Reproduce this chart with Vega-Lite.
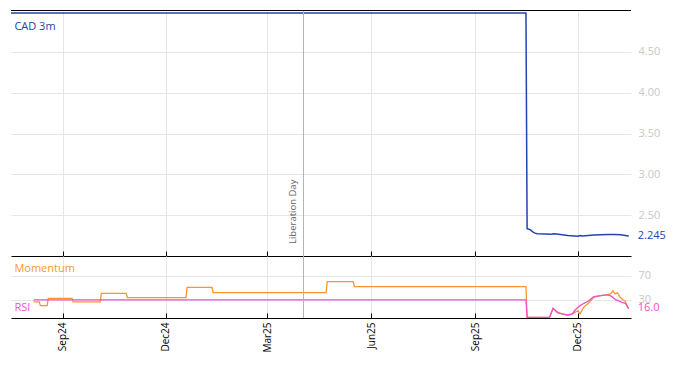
{
  "$schema": "https://vega.github.io/schema/vega-lite/v6.json",
  "background": "white",
  "padding": {"left": 10, "top": 10, "right": 0, "bottom": 0},
  "spacing": 0,
  "bounds": "flush",
  "config": {
    "view": {"stroke": null},
    "font": "Open Sans",
    "text": {"font": "Open Sans"},
    "axis": {"labelFont": "Open Sans", "titleFont": "Open Sans"}
  },
  "datasets": {
    "cad": [
      {"date": "2024-07-17", "value": 4.975},
      {"date": "2025-10-16", "value": 4.975},
      {"date": "2025-10-17", "value": 2.335},
      {"date": "2025-10-18", "value": 2.33},
      {"date": "2025-10-20", "value": 2.32},
      {"date": "2025-10-22", "value": 2.295},
      {"date": "2025-10-24", "value": 2.28},
      {"date": "2025-10-26", "value": 2.272},
      {"date": "2025-11-02", "value": 2.268},
      {"date": "2025-11-07", "value": 2.265},
      {"date": "2025-11-09", "value": 2.272},
      {"date": "2025-11-12", "value": 2.27},
      {"date": "2025-11-17", "value": 2.26},
      {"date": "2025-11-22", "value": 2.25},
      {"date": "2025-12-01", "value": 2.242},
      {"date": "2025-12-03", "value": 2.25},
      {"date": "2025-12-05", "value": 2.246},
      {"date": "2025-12-10", "value": 2.252},
      {"date": "2025-12-15", "value": 2.257},
      {"date": "2025-12-21", "value": 2.261},
      {"date": "2025-12-28", "value": 2.263},
      {"date": "2026-01-02", "value": 2.264},
      {"date": "2026-01-08", "value": 2.259},
      {"date": "2026-01-12", "value": 2.252},
      {"date": "2026-01-15", "value": 2.245}
    ],
    "events": [
      {"date": "2025-04-02", "event": "Liberation Day"}
    ],
    "labels": [
      {"panel": "top", "label": "CAD 3m", "date": "2024-07-20", "value": 4.77},
      {"panel": "bottom", "label": "Momentum", "date": "2024-07-20", "value": 75.7},
      {"panel": "bottom", "label": "RSI", "date": "2024-07-20", "value": 12.1}
    ],
    "ind": [
      {"date": "2024-08-06", "series": "Momentum", "value": 26.7},
      {"date": "2024-08-11", "series": "Momentum", "value": 26.7},
      {"date": "2024-08-12", "series": "Momentum", "value": 20.5},
      {"date": "2024-08-18", "series": "Momentum", "value": 20.5},
      {"date": "2024-08-19", "series": "Momentum", "value": 32.7},
      {"date": "2024-09-09", "series": "Momentum", "value": 32.7},
      {"date": "2024-09-10", "series": "Momentum", "value": 26.7},
      {"date": "2024-10-04", "series": "Momentum", "value": 26.7},
      {"date": "2024-10-05", "series": "Momentum", "value": 41},
      {"date": "2024-10-27", "series": "Momentum", "value": 41},
      {"date": "2024-10-28", "series": "Momentum", "value": 34},
      {"date": "2024-12-19", "series": "Momentum", "value": 34},
      {"date": "2024-12-20", "series": "Momentum", "value": 51},
      {"date": "2025-01-11", "series": "Momentum", "value": 51},
      {"date": "2025-01-12", "series": "Momentum", "value": 42.2},
      {"date": "2025-04-22", "series": "Momentum", "value": 42.2},
      {"date": "2025-04-23", "series": "Momentum", "value": 60.5},
      {"date": "2025-05-16", "series": "Momentum", "value": 60.5},
      {"date": "2025-05-17", "series": "Momentum", "value": 52.2},
      {"date": "2025-10-16", "series": "Momentum", "value": 52.2},
      {"date": "2025-10-17", "series": "Momentum", "value": 1},
      {"date": "2025-11-06", "series": "Momentum", "value": 1.5},
      {"date": "2025-11-09", "series": "Momentum", "value": 16},
      {"date": "2025-11-13", "series": "Momentum", "value": 9},
      {"date": "2025-11-18", "series": "Momentum", "value": 6.5},
      {"date": "2025-11-22", "series": "Momentum", "value": 5},
      {"date": "2025-11-26", "series": "Momentum", "value": 7},
      {"date": "2025-11-28", "series": "Momentum", "value": 9},
      {"date": "2025-12-01", "series": "Momentum", "value": 12},
      {"date": "2025-12-03", "series": "Momentum", "value": 7},
      {"date": "2025-12-06", "series": "Momentum", "value": 17.7},
      {"date": "2025-12-10", "series": "Momentum", "value": 24},
      {"date": "2025-12-15", "series": "Momentum", "value": 34.3},
      {"date": "2025-12-21", "series": "Momentum", "value": 37},
      {"date": "2025-12-27", "series": "Momentum", "value": 38.8},
      {"date": "2025-12-30", "series": "Momentum", "value": 40},
      {"date": "2026-01-01", "series": "Momentum", "value": 45.5},
      {"date": "2026-01-03", "series": "Momentum", "value": 40},
      {"date": "2026-01-05", "series": "Momentum", "value": 41.7},
      {"date": "2026-01-07", "series": "Momentum", "value": 35.5},
      {"date": "2026-01-09", "series": "Momentum", "value": 31.7},
      {"date": "2026-01-12", "series": "Momentum", "value": 27.7},
      {"date": "2026-01-14", "series": "Momentum", "value": 17.7},
      {"date": "2026-01-15", "series": "Momentum", "value": 15},
      {"date": "2024-08-06", "series": "RSI", "value": 30},
      {"date": "2025-10-16", "series": "RSI", "value": 30},
      {"date": "2025-10-17", "series": "RSI", "value": 1},
      {"date": "2025-11-06", "series": "RSI", "value": 1.5},
      {"date": "2025-11-09", "series": "RSI", "value": 16},
      {"date": "2025-11-13", "series": "RSI", "value": 9},
      {"date": "2025-11-18", "series": "RSI", "value": 6.5},
      {"date": "2025-11-22", "series": "RSI", "value": 5},
      {"date": "2025-11-26", "series": "RSI", "value": 6.5},
      {"date": "2025-11-28", "series": "RSI", "value": 12},
      {"date": "2025-12-01", "series": "RSI", "value": 17.7},
      {"date": "2025-12-03", "series": "RSI", "value": 20.5},
      {"date": "2025-12-06", "series": "RSI", "value": 24},
      {"date": "2025-12-10", "series": "RSI", "value": 27.7},
      {"date": "2025-12-15", "series": "RSI", "value": 35.5},
      {"date": "2025-12-21", "series": "RSI", "value": 37},
      {"date": "2025-12-27", "series": "RSI", "value": 38.3},
      {"date": "2025-12-30", "series": "RSI", "value": 36.7},
      {"date": "2026-01-01", "series": "RSI", "value": 34.3},
      {"date": "2026-01-03", "series": "RSI", "value": 31},
      {"date": "2026-01-07", "series": "RSI", "value": 27.7},
      {"date": "2026-01-09", "series": "RSI", "value": 26},
      {"date": "2026-01-12", "series": "RSI", "value": 24.3},
      {"date": "2026-01-14", "series": "RSI", "value": 18.9},
      {"date": "2026-01-15", "series": "RSI", "value": 16}
    ]
  },
  "vconcat": [
    {
      "width": 620,
      "height": 245,
      "layer": [
        {
          "data": {"name": "cad"},
          "mark": {"type": "line", "color": "#2443b0", "strokeWidth": 1.5, "clip": true},
          "encoding": {
            "x": {
              "field": "date", "type": "temporal",
              "scale": {"type": "utc", "domain": [{"year": 2024, "month": 7, "date": 17, "utc": true}, {"year": 2026, "month": 1, "date": 17, "utc": true}], "nice": false},
              "axis": {
                "orient": "bottom", "title": null, "labels": false,
                "values": [
                  {"year": 2024, "month": 9, "date": 1, "utc": true},
                  {"year": 2024, "month": 12, "date": 1, "utc": true},
                  {"year": 2025, "month": 3, "date": 1, "utc": true},
                  {"year": 2025, "month": 6, "date": 1, "utc": true},
                  {"year": 2025, "month": 9, "date": 1, "utc": true},
                  {"year": 2025, "month": 12, "date": 1, "utc": true}
                ],
                "domainColor": "#000000", "domainWidth": 1,
                "tickColor": "#000000", "tickSize": -5,
                "grid": true, "gridColor": "#e6e6e6"
              }
            },
            "y": {
              "field": "value", "type": "quantitative",
              "scale": {"domain": [2, 5], "nice": false, "zero": false},
              "axis": {
                "orient": "right", "title": null, "values": [2.5, 3, 3.5, 4, 4.5], "format": ".2f",
                "domain": false, "ticks": false, "labelColor": "#c8c8c8", "labelFontSize": 11, "labelPadding": 7,
                "grid": true, "gridColor": "#e6e6e6"
              }
            }
          }
        },
        {
          "data": {"name": "events"},
          "mark": {"type": "rule", "color": "#b4b4b4", "strokeWidth": 1},
          "encoding": {"x": {"field": "date", "type": "temporal"}}
        },
        {
          "data": {"name": "events"},
          "mark": {"type": "text", "angle": -90, "align": "left", "baseline": "bottom", "dy": -5, "fontSize": 9.5, "color": "#666666"},
          "encoding": {
            "x": {"field": "date", "type": "temporal"},
            "y": {"datum": 2.147},
            "text": {"field": "event"}
          }
        },
        {
          "data": {"values": [{"edge": 5}]},
          "mark": {"type": "rule", "color": "#000000", "strokeWidth": 1, "yOffset": -0.5},
          "encoding": {"y": {"field": "edge", "type": "quantitative"}}
        },
        {
          "data": {"name": "labels"},
          "transform": [{"filter": "datum.panel === 'top'"}],
          "mark": {"type": "text", "align": "left", "baseline": "alphabetic", "fontSize": 11, "color": "#2443b0"},
          "encoding": {
            "x": {"field": "date", "type": "temporal"},
            "y": {"field": "value", "type": "quantitative"},
            "text": {"field": "label"}
          }
        },
        {
          "data": {"name": "cad"},
          "transform": [{"filter": "time(datum.date) === utc(2026, 0, 15)"}],
          "mark": {"type": "text", "align": "left", "baseline": "middle", "dx": 9, "fontSize": 11, "color": "#2443b0"},
          "encoding": {
            "x": {"field": "date", "type": "temporal"},
            "y": {"field": "value", "type": "quantitative"},
            "text": {"field": "value", "type": "quantitative", "format": ".3f"}
          }
        }
      ]
    },
    {
      "width": 620,
      "height": 62,
      "layer": [
        {
          "data": {"name": "ind"},
          "transform": [{"filter": "datum.series === 'Momentum'"}],
          "mark": {"type": "line", "color": "#f7962f", "strokeWidth": 1.3, "clip": true},
          "encoding": {
            "x": {
              "field": "date", "type": "temporal",
              "scale": {"type": "utc", "domain": [{"year": 2024, "month": 7, "date": 17, "utc": true}, {"year": 2026, "month": 1, "date": 17, "utc": true}], "nice": false},
              "axis": {
                "orient": "bottom", "title": null, "format": "%b%y", "labelAngle": -90,
                "values": [
                  {"year": 2024, "month": 9, "date": 1, "utc": true},
                  {"year": 2024, "month": 12, "date": 1, "utc": true},
                  {"year": 2025, "month": 3, "date": 1, "utc": true},
                  {"year": 2025, "month": 6, "date": 1, "utc": true},
                  {"year": 2025, "month": 9, "date": 1, "utc": true},
                  {"year": 2025, "month": 12, "date": 1, "utc": true}
                ],
                "labelColor": "#000000", "labelFontSize": 10, "labelPadding": 9,
                "domainColor": "#000000", "domainWidth": 1,
                "tickColor": "#000000", "tickSize": -5,
                "grid": true, "gridColor": "#e6e6e6"
              }
            },
            "y": {
              "field": "value", "type": "quantitative",
              "scale": {"domain": [0, 103], "nice": false, "zero": false},
              "axis": {
                "orient": "right", "title": null, "values": [30, 70],
                "domain": false, "ticks": false, "labelColor": "#c8c8c8", "labelFontSize": 11, "labelPadding": 7,
                "grid": true, "gridColor": "#e6e6e6"
              }
            }
          }
        },
        {
          "data": {"name": "ind"},
          "transform": [{"filter": "datum.series === 'RSI'"}],
          "mark": {"type": "line", "color": "#f04fd2", "strokeWidth": 1.3, "clip": true},
          "encoding": {
            "x": {"field": "date", "type": "temporal"},
            "y": {"field": "value", "type": "quantitative"}
          }
        },
        {
          "data": {"name": "events"},
          "mark": {"type": "rule", "color": "#b4b4b4", "strokeWidth": 1},
          "encoding": {"x": {"field": "date", "type": "temporal"}}
        },
        {
          "data": {"name": "labels"},
          "transform": [{"filter": "datum.panel === 'bottom'"}],
          "mark": {"type": "text", "align": "left", "baseline": "alphabetic", "fontSize": 11},
          "encoding": {
            "x": {"field": "date", "type": "temporal"},
            "y": {"field": "value", "type": "quantitative"},
            "text": {"field": "label"},
            "color": {"field": "label", "type": "nominal", "scale": {"domain": ["Momentum", "RSI"], "range": ["#f7962f", "#f04fd2"]}, "legend": null}
          }
        },
        {
          "data": {"name": "ind"},
          "transform": [{"filter": "datum.series === 'RSI' && time(datum.date) === utc(2026, 0, 15)"}],
          "mark": {"type": "text", "align": "left", "baseline": "middle", "dx": 9, "fontSize": 11, "color": "#f04fd2"},
          "encoding": {
            "x": {"field": "date", "type": "temporal"},
            "y": {"field": "value", "type": "quantitative"},
            "text": {"field": "value", "type": "quantitative", "format": ".1f"}
          }
        }
      ]
    }
  ]
}
